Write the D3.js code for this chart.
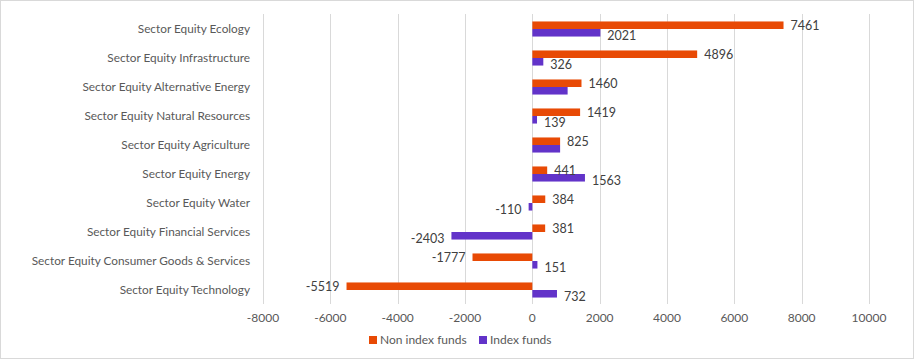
<!DOCTYPE html>
<html><head><meta charset="utf-8">
<script src="https://cdn.jsdelivr.net/npm/d3@7"></script>
<style>
html,body{margin:0;padding:0;background:#fff;}
svg{display:block;font-family:Lato,"Open Sans",sans-serif;}
</style></head>
<body>
<script>
const categories = [
  "Sector Equity Ecology",
  "Sector Equity Infrastructure",
  "Sector Equity Alternative Energy",
  "Sector Equity Natural Resources",
  "Sector Equity Agriculture",
  "Sector Equity Energy",
  "Sector Equity Water",
  "Sector Equity Financial Services",
  "Sector Equity Consumer Goods & Services",
  "Sector Equity Technology"
];
const seriesNames = ["Non index funds", "Index funds"];
const nonIndexFunds = [7461, 4896, 1460, 1419, 825, 441, 384, 381, -1777, -5519];
const indexFunds = [2021, 326, 1048, 139, 825, 1563, -110, -2403, 151, 732];
const showIndexLabel = [true, true, false, true, false, true, true, true, true, true];
const showNonIndexLabel = [true, true, true, true, true, true, true, true, true, true];
const xTicks = [-8000, -6000, -4000, -2000, 0, 2000, 4000, 6000, 8000, 10000];
const colors = ["#E84A05", "#6233C9"];

const W = 914, H = 359;
const svg = d3.select("body").append("svg").attr("width", W).attr("height", H);

svg.append("rect").attr("x", 0.5).attr("y", 0.5).attr("width", W - 1).attr("height", H - 1)
  .attr("fill", "#fff").attr("stroke", "#d9d9d9");

const x = d3.scaleLinear().domain([-8000, 10000]).range([263, 869]);
const y = d3.scaleBand().domain(categories).range([14.5, 304.5]).paddingInner(0.48).paddingOuter(0.24);
const ySub = d3.scaleBand().domain(seriesNames).range([0, y.bandwidth()]);

// gridlines
svg.append("g").selectAll("line").data(xTicks).join("line")
  .attr("x1", d => Math.round(x(d)) + 0.5).attr("x2", d => Math.round(x(d)) + 0.5)
  .attr("y1", 14).attr("y2", 304)
  .attr("stroke", "#d9d9d9").attr("stroke-width", 1);

// x tick labels
svg.append("g").selectAll("text").data(xTicks).join("text")
  .attr("x", d => x(d)).attr("y", 318).attr("dy", "0.35em")
  .attr("text-anchor", "middle").attr("font-size", 12).attr("fill", "#595959")
  .text(d => d);

// category labels
svg.append("g").selectAll("text").data(categories).join("text")
  .attr("x", 250).attr("y", d => y(d) + y.bandwidth() / 2 - 0.5).attr("dy", "0.35em")
  .attr("text-anchor", "end").attr("font-size", 11.8).attr("fill", "#595959")
  .text(d => d);

const rows = categories.map((c, i) => [
  {cat: c, s: seriesNames[0], v: nonIndexFunds[i], show: showNonIndexLabel[i], k: 0},
  {cat: c, s: seriesNames[1], v: indexFunds[i], show: showIndexLabel[i], k: 1}
]).flat();

svg.append("g").selectAll("rect").data(rows).join("rect")
  .attr("x", d => Math.min(x(0), x(d.v)))
  .attr("width", d => Math.abs(x(d.v) - x(0)))
  .attr("y", d => y(d.cat) + ySub(d.s))
  .attr("height", ySub.bandwidth())
  .attr("fill", d => colors[d.k]);

svg.append("g").selectAll("text").data(rows.filter(d => d.show)).join("text")
  .attr("x", d => d.v >= 0 ? x(d.v) + 7 : x(d.v) - 7)
  .attr("y", d => y(d.cat) + ySub(d.s) + ySub.bandwidth() / 2 + (d.k === 1 ? 3 : 0))
  .attr("dy", "0.35em")
  .attr("text-anchor", d => d.v >= 0 ? "start" : "end")
  .attr("font-size", 12.5).attr("fill", "#404040")
  .text(d => d.v);

// legend
const leg = svg.append("g").attr("transform", "translate(369,336)");
const lx = [0, 110];
seriesNames.forEach((n, i) => {
  leg.append("rect").attr("x", lx[i]).attr("y", 0).attr("width", 8).attr("height", 8).attr("fill", colors[i]);
  leg.append("text").attr("x", lx[i] + 11).attr("y", 4).attr("dy", "0.35em")
    .attr("font-size", 12).attr("fill", "#595959").text(n);
});
</script>
</body></html>
